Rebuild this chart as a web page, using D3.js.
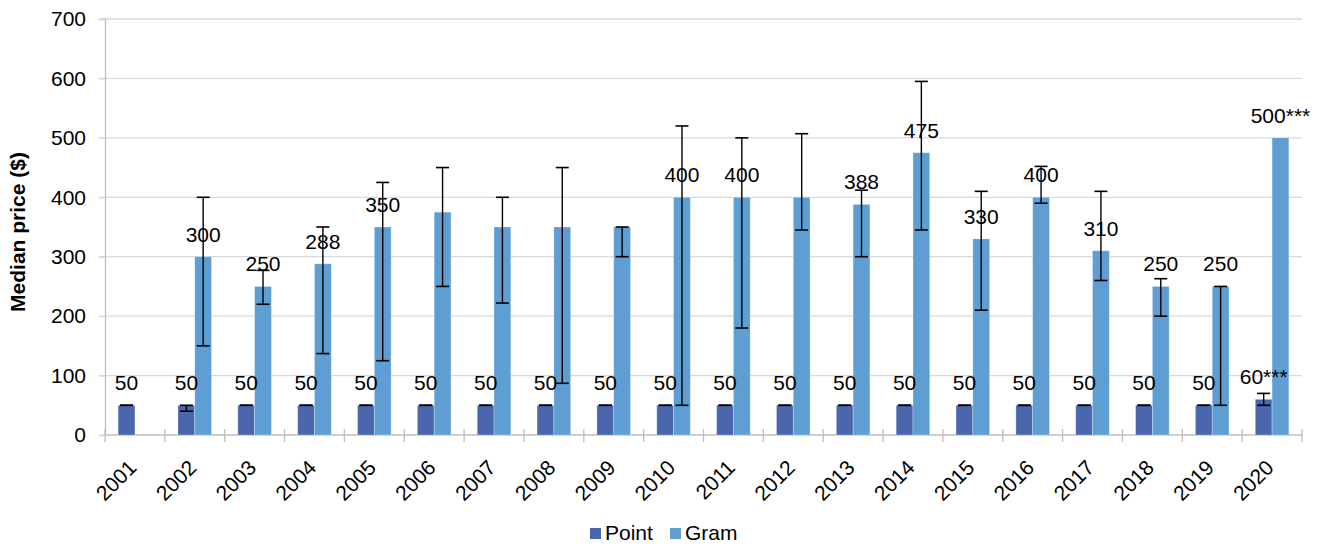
<!DOCTYPE html>
<html>
<head>
<meta charset="utf-8">
<script src="https://cdn.jsdelivr.net/npm/d3@7"></script>
<style>
  html, body { margin: 0; padding: 0; background: #fff; }
  svg { display: block; font-family: "Liberation Sans", Arial, sans-serif; }
</style>
</head>
<body>
<svg id="chart" width="1325" height="547"></svg>
<script>
const years = ["2001","2002","2003","2004","2005","2006","2007","2008","2009","2010",
               "2011","2012","2013","2014","2015","2016","2017","2018","2019","2020"];
const seriesNames = ["Point", "Gram"];

const pointValues = [50,50,50,50,50,50,50,50,50,50,50,50,50,50,50,50,50,50,50,60];
const pointLow    = [50,40,50,50,50,50,50,50,50,50,50,50,50,50,50,50,50,50,50,50];
const pointHigh   = [50,50,50,50,50,50,50,50,50,50,50,50,50,50,50,50,50,50,50,70];
const pointLabels = ["50","50","50","50","50","50","50","50","50","50",
                     "50","50","50","50","50","50","50","50","50","60***"];

const gramValues = [null,300,250,288,350,375,350,350,350,400,400,400,388,475,330,400,310,250,250,500];
const gramLow    = [null,150,220,137,125,250,222,87,300,50,180,345,300,345,210,390,260,200,50,null];
const gramHigh   = [null,400,277,350,425,450,400,450,350,520,500,507,412,595,410,452,410,263,250,null];
const gramLabels = [null,"300","250","288","350",null,null,null,null,"400",
                    "400",null,"388","475","330","400","310","250","250","500***"];

const yTicks = [0,100,200,300,400,500,600,700];
const yTitle = "Median price ($)";

const colors = { Point: "#4A66AC", Gram: "#5F9ED2" };

(function () {
const svg = d3.select("#chart");
const mLeft = 105, mRight = 1302, mTop = 19, mBottom = 435;
const fontSize = 21;

const y = d3.scaleLinear().domain([0, 700]).range([mBottom, mTop]);
const x0 = d3.scaleBand().domain(years).range([mLeft, mRight]).paddingInner(0.439).paddingOuter(0.2195);
const x1 = d3.scaleBand().domain(seriesNames).range([0, x0.bandwidth()]);

// gridlines
svg.append("g").selectAll("line").data(yTicks.filter(d => d > 0)).join("line")
  .attr("x1", mLeft - 6).attr("x2", mRight)
  .attr("y1", d => y(d)).attr("y2", d => y(d))
  .attr("stroke", "#D9D9D9").attr("stroke-width", 1.3);

// y axis
const yAxis = svg.append("g").attr("transform", `translate(${mLeft},0)`)
  .call(d3.axisLeft(y).tickValues(yTicks).tickSize(6).tickPadding(13));
yAxis.select(".domain").attr("stroke", "#BFBFBF").attr("stroke-width", 1.3);
yAxis.selectAll(".tick line").attr("stroke", "#D9D9D9").attr("stroke-width", 1.3);
yAxis.selectAll(".tick text").attr("font-size", fontSize).attr("fill", "#000")
  .attr("font-family", "Liberation Sans, Arial, sans-serif");

// x axis line and ticks at category boundaries
svg.append("line").attr("x1", mLeft).attr("x2", mRight).attr("y1", mBottom).attr("y2", mBottom)
  .attr("stroke", "#BFBFBF").attr("stroke-width", 1.3);
const boundaries = years.map(d => x0(d) - x0.step() * x0.paddingOuter()).concat([mRight]);
svg.append("g").selectAll("line").data(boundaries).join("line")
  .attr("x1", d => d).attr("x2", d => d)
  .attr("y1", mBottom - 6).attr("y2", mBottom + 7)
  .attr("stroke", "#BFBFBF").attr("stroke-width", 1.3);

// x labels
svg.append("g").selectAll("text").data(years).join("text")
  .attr("transform", d => `translate(${x0(d) + x0.bandwidth() / 2 - 1},${mBottom + 30}) rotate(-45)`)
  .attr("text-anchor", "end").attr("dominant-baseline", "middle")
  .attr("font-size", fontSize).attr("fill", "#000").text(d => d);

// bars
const rows = years.map((yr, i) => ({
  year: yr,
  items: [
    { s: "Point", v: pointValues[i], lo: pointLow[i], hi: pointHigh[i], label: pointLabels[i] },
    { s: "Gram", v: gramValues[i], lo: gramLow[i], hi: gramHigh[i], label: gramLabels[i] }
  ]
}));

const g = svg.append("g").selectAll("g").data(rows).join("g")
  .attr("transform", d => `translate(${x0(d.year)},0)`);

g.selectAll("rect").data(d => d.items.filter(e => e.v != null)).join("rect")
  .attr("x", d => x1(d.s)).attr("width", x1.bandwidth())
  .attr("y", d => y(d.v)).attr("height", d => mBottom - y(d.v))
  .attr("fill", d => colors[d.s])
  .attr("stroke", "#ffffff").attr("stroke-opacity", 0.35).attr("stroke-width", 0.8);

// error bars
const cap = 13;
const eb = g.selectAll("g.err").data(d => d.items.filter(e => e.lo != null && e.hi != null)).join("g")
  .attr("class", "err");
const cx = d => x1(d.s) + x1.bandwidth() / 2;
eb.append("line")
  .attr("x1", cx).attr("x2", cx)
  .attr("y1", d => y(d.lo)).attr("y2", d => y(d.hi))
  .attr("stroke", "#000").attr("stroke-width", 1.4);
eb.append("line")
  .attr("x1", d => cx(d) - cap / 2).attr("x2", d => cx(d) + cap / 2)
  .attr("y1", d => y(d.lo)).attr("y2", d => y(d.lo))
  .attr("stroke", "#000").attr("stroke-width", 1.6);
eb.append("line")
  .attr("x1", d => cx(d) - cap / 2).attr("x2", d => cx(d) + cap / 2)
  .attr("y1", d => y(d.hi)).attr("y2", d => y(d.hi))
  .attr("stroke", "#000").attr("stroke-width", 1.6);

// data labels
g.selectAll("text.lbl").data(d => d.items.filter(e => e.label != null)).join("text")
  .attr("class", "lbl")
  .attr("x", cx)
  .attr("y", d => y(d.v) - 15)
  .attr("text-anchor", "middle")
  .attr("font-size", fontSize).attr("fill", "#000")
  .text(d => d.label);

// y title
svg.append("text")
  .attr("transform", `translate(25,${(mTop + mBottom) / 2 + 5}) rotate(-90)`)
  .attr("text-anchor", "middle")
  .attr("font-size", 21).attr("font-weight", "bold").attr("fill", "#000")
  .text(yTitle);

// legend
const legend = svg.append("g");
const legendItems = [{ s: "Point", x: 590 }, { s: "Gram", x: 670 }];
legend.selectAll("rect").data(legendItems).join("rect")
  .attr("x", d => d.x).attr("y", 528).attr("width", 11).attr("height", 11)
  .attr("fill", d => colors[d.s]);
legend.selectAll("text").data(legendItems).join("text")
  .attr("x", d => d.x + 15).attr("y", 540)
  .attr("font-size", fontSize).attr("fill", "#000")
  .text(d => d.s);
})();
</script>
</body>
</html>
